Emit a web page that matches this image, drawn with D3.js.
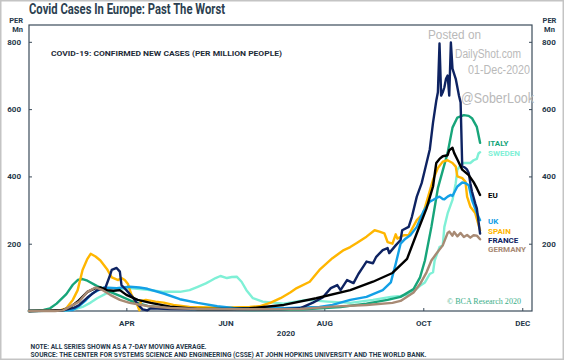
<!DOCTYPE html>
<html><head><meta charset="utf-8">
<script src="https://cdn.jsdelivr.net/npm/d3@7"></script>
<style>body{margin:0;background:#fff}svg{display:block}</style>
</head><body><svg id="c" width="564" height="360"></svg>
<script>
const countries = ["ITALY","SWEDEN","EU","UK","SPAIN","FRANCE","GERMANY"];
const italy = [["2020-02-01",0],["2020-02-10",3],["2020-02-14",8],["2020-02-18",22],["2020-02-24",50],["2020-02-28",78],["2020-03-02",92],["2020-03-05",95],["2020-03-08",90],["2020-03-14",74],["2020-03-22",57],["2020-03-28",45],["2020-04-05",28],["2020-04-14",15],["2020-04-28",8],["2020-05-16",5],["2020-06-16",3],["2020-07-17",4],["2020-08-11",12],["2020-08-27",22],["2020-09-09",33],["2020-09-17",42],["2020-09-25",65],["2020-09-29",100],["2020-10-02",150],["2020-10-06",250],["2020-10-10",365],["2020-10-16",470],["2020-10-19",545],["2020-10-22",575],["2020-10-26",582],["2020-10-29",580],["2020-10-31",573],["2020-11-03",547],["2020-11-05",500]];
const sweden = [["2020-02-01",0],["2020-02-24",1],["2020-02-29",5],["2020-03-05",12],["2020-03-10",25],["2020-03-14",38],["2020-03-20",53],["2020-03-26",62],["2020-04-03",68],["2020-04-14",63],["2020-04-24",57],["2020-05-04",57],["2020-05-10",62],["2020-05-15",72],["2020-05-20",82],["2020-05-23",90],["2020-05-26",98],["2020-05-29",104],["2020-06-02",98],["2020-06-05",101],["2020-06-08",102],["2020-06-11",87],["2020-06-14",62],["2020-06-18",38],["2020-06-24",28],["2020-07-07",22],["2020-07-21",33],["2020-08-03",28],["2020-08-17",24],["2020-08-31",33],["2020-09-11",42],["2020-09-17",45],["2020-09-23",50],["2020-09-29",75],["2020-10-02",85],["2020-10-05",110],["2020-10-07",115],["2020-10-08",150],["2020-10-11",190],["2020-10-13",195],["2020-10-14",250],["2020-10-16",290],["2020-10-19",330],["2020-10-21",380],["2020-10-22",420],["2020-10-25",440],["2020-10-30",440],["2020-11-01",448],["2020-11-03",452],["2020-11-04",468],["2020-11-05",472]];
const eu = [["2020-02-01",0],["2020-02-14",1],["2020-02-22",3],["2020-02-26",10],["2020-03-02",28],["2020-03-08",57],["2020-03-13",68],["2020-03-16",70],["2020-03-20",62],["2020-03-24",60],["2020-03-28",62],["2020-04-01",48],["2020-04-08",33],["2020-04-16",24],["2020-04-28",13],["2020-05-15",6],["2020-06-04",6],["2020-06-16",8],["2020-07-07",18],["2020-07-27",38],["2020-08-17",62],["2020-08-31",87],["2020-09-12",113],["2020-09-21",155],["2020-09-27",231],["2020-10-03",305],["2020-10-07",370],["2020-10-09",440],["2020-10-11",452],["2020-10-13",460],["2020-10-16",463],["2020-10-17",478],["2020-10-19",485],["2020-10-20",470],["2020-10-22",450],["2020-10-25",420],["2020-10-29",404],["2020-11-01",383],["2020-11-03",365],["2020-11-05",345]];
const uk = [["2020-02-01",0],["2020-02-20",1],["2020-02-28",3],["2020-03-03",15],["2020-03-07",32],["2020-03-11",52],["2020-03-18",70],["2020-03-26",68],["2020-04-03",72],["2020-04-09",70],["2020-04-14",66],["2020-04-24",52],["2020-05-04",35],["2020-05-15",24],["2020-05-27",14],["2020-06-06",9],["2020-07-07",8],["2020-07-29",12],["2020-08-06",18],["2020-08-17",33],["2020-08-27",42],["2020-09-06",62],["2020-09-11",85],["2020-09-14",140],["2020-09-17",200],["2020-09-20",215],["2020-09-23",225],["2020-09-27",250],["2020-10-01",295],["2020-10-05",325],["2020-10-07",330],["2020-10-09",336],["2020-10-11",340],["2020-10-13",333],["2020-10-14",332],["2020-10-16",340],["2020-10-18",345],["2020-10-19",342],["2020-10-22",370],["2020-10-25",382],["2020-10-27",380],["2020-10-29",374],["2020-10-31",330],["2020-11-03",291],["2020-11-05",270]];
const spain = [["2020-02-01",0],["2020-02-20",2],["2020-02-24",8],["2020-02-28",33],["2020-03-02",62],["2020-03-05",122],["2020-03-08",155],["2020-03-10",170],["2020-03-13",162],["2020-03-16",150],["2020-03-20",125],["2020-03-23",100],["2020-03-27",92],["2020-03-29",98],["2020-03-31",92],["2020-04-02",80],["2020-04-04",50],["2020-04-06",33],["2020-04-08",15],["2020-04-09",2],["2020-04-10",30],["2020-04-13",33],["2020-04-19",28],["2020-04-24",25],["2020-04-30",18],["2020-05-10",12],["2020-05-29",10],["2020-06-16",12],["2020-06-22",14],["2020-06-29",25],["2020-07-05",38],["2020-07-11",55],["2020-07-15",68],["2020-07-23",87],["2020-07-29",122],["2020-08-06",157],["2020-08-13",181],["2020-08-17",190],["2020-08-21",202],["2020-08-27",221],["2020-09-01",240],["2020-09-04",236],["2020-09-07",231],["2020-09-09",205],["2020-09-12",200],["2020-09-14",228],["2020-09-15",215],["2020-09-19",225],["2020-09-22",226],["2020-09-27",270],["2020-10-01",290],["2020-10-04",340],["2020-10-07",390],["2020-10-10",425],["2020-10-13",444],["2020-10-16",448],["2020-10-19",440],["2020-10-21",429],["2020-10-22",400],["2020-10-25",395],["2020-10-27",384],["2020-10-28",340],["2020-10-30",310],["2020-11-02",291],["2020-11-05",240]];
const france = [["2020-02-01",0],["2020-02-17",1],["2020-02-22",2],["2020-02-29",10],["2020-03-03",18],["2020-03-08",40],["2020-03-14",62],["2020-03-19",68],["2020-03-22",107],["2020-03-23",122],["2020-03-26",128],["2020-03-28",117],["2020-03-29",77],["2020-03-30",72],["2020-04-01",62],["2020-04-05",40],["2020-04-08",20],["2020-04-11",5],["2020-04-14",2],["2020-04-16",8],["2020-04-28",6],["2020-05-29",4],["2020-07-05",5],["2020-07-17",8],["2020-07-25",25],["2020-07-31",40],["2020-08-05",68],["2020-08-09",77],["2020-08-11",62],["2020-08-15",92],["2020-08-19",83],["2020-08-22",110],["2020-08-25",132],["2020-08-27",147],["2020-08-31",142],["2020-09-02",161],["2020-09-06",181],["2020-09-09",187],["2020-09-10",172],["2020-09-14",195],["2020-09-17",211],["2020-09-18",240],["2020-09-22",250],["2020-09-24",280],["2020-09-27",340],["2020-09-30",380],["2020-10-02",420],["2020-10-05",480],["2020-10-07",560],["2020-10-09",625],["2020-10-10",650],["2020-10-11",795],["2020-10-12",640],["2020-10-13",650],["2020-10-14",665],["2020-10-15",690],["2020-10-16",700],["2020-10-17",640],["2020-10-18",798],["2020-10-19",720],["2020-10-20",705],["2020-10-21",690],["2020-10-22",665],["2020-10-23",640],["2020-10-24",620],["2020-10-25",430],["2020-10-26",428],["2020-10-27",425],["2020-10-28",420],["2020-10-29",410],["2020-10-30",380],["2020-10-31",355],["2020-11-02",320],["2020-11-03",305],["2020-11-05",230]];
const germany = [["2020-02-01",0],["2020-02-17",0],["2020-02-22",2],["2020-03-03",28],["2020-03-08",57],["2020-03-13",70],["2020-03-17",63],["2020-03-22",48],["2020-03-28",33],["2020-04-03",24],["2020-04-14",15],["2020-04-28",9],["2020-05-15",6],["2020-06-16",5],["2020-07-17",6],["2020-08-06",13],["2020-08-27",18],["2020-09-12",24],["2020-09-17",30],["2020-09-25",55],["2020-09-29",80],["2020-10-03",115],["2020-10-06",150],["2020-10-09",170],["2020-10-13",195],["2020-10-16",232],["2020-10-17",236],["2020-10-19",224],["2020-10-20",235],["2020-10-22",222],["2020-10-24",232],["2020-10-26",220],["2020-10-28",226],["2020-10-30",218],["2020-11-01",225],["2020-11-03",224],["2020-11-05",213]];
const yTicks = [200,400,600,800];
const monthTicks = ["2020-04-01","2020-06-01","2020-08-01","2020-10-01","2020-12-01"];
const monthLabels = ["APR","JUN","AUG","OCT","DEC"];

const seriesData = {ITALY:italy, SWEDEN:sweden, EU:eu, UK:uk, SPAIN:spain, FRANCE:france, GERMANY:germany};
const colors = {ITALY:"#17a57a", SWEDEN:"#7ff0d6", EU:"#000000", UK:"#13a0e6", SPAIN:"#ffb600", FRANCE:"#0e2362", GERMANY:"#a88a74"};
const drawOrder = ["SWEDEN","ITALY","SPAIN","UK","FRANCE","EU","GERMANY"];

const parse = d3.utcParse("%Y-%m-%d");
const svg = d3.select("#c");
const F = "Roboto, 'Noto Sans', sans-serif";
const ink = "#26384a";

const x = d3.scaleUtc().domain([parse("2020-02-01"), parse("2020-12-07")]).range([29, 532]);
const y = d3.scaleLinear().domain([0, 850]).range([311, 25]);

// outer border
svg.append("rect").attr("x",0.75).attr("y",0.75).attr("width",562.5).attr("height",358.5)
  .attr("fill","none").attr("stroke","#c4c4c4").attr("stroke-width",1.5);

// title
svg.append("text").attr("x",29).attr("y",13.5).text("Covid Cases In Europe: Past The Worst")
  .attr("font-family",F).attr("font-weight",700).attr("font-size",14.5).attr("fill","#2c3f50")
  .attr("textLength",196).attr("lengthAdjust","spacingAndGlyphs");

// axes
const tickStyle = g => {
  g.select(".domain").remove();
  g.selectAll(".tick line").attr("stroke", "#3b4b5a");
  g.selectAll(".tick text").attr("font-family",F).attr("font-weight",700).attr("font-size",8).attr("fill",ink);
};
svg.append("g").attr("transform","translate(29,0)")
  .call(d3.axisLeft(y).tickValues(yTicks).tickSize(-3).tickPadding(8)).call(tickStyle);
svg.append("g").attr("transform","translate(532,0)")
  .call(d3.axisRight(y).tickValues(yTicks).tickSize(-3).tickPadding(10)).call(tickStyle);
svg.append("g").attr("transform","translate(0,311)")
  .call(d3.axisBottom(x).tickValues(monthTicks.map(parse)).tickFormat((d,i)=>monthLabels[i]).tickSize(-3).tickPadding(9))
  .call(tickStyle);

// frame
svg.append("rect").attr("x",29).attr("y",25).attr("width",503).attr("height",286)
  .attr("fill","none").attr("stroke","#3b4b5a").attr("stroke-width",1.2);

// unit labels
[["PER",23],["Mn",31.5]].forEach(([t,yy])=>{
  svg.append("text").attr("x",23).attr("y",yy).attr("text-anchor","end").text(t)
    .attr("font-family",F).attr("font-weight",700).attr("font-size",7.5).attr("fill",ink);
  svg.append("text").attr("x",549.5).attr("y",yy).attr("text-anchor","middle").text(t)
    .attr("font-family",F).attr("font-weight",700).attr("font-size",7.5).attr("fill",ink);
});

// subtitle
svg.append("text").attr("x",51).attr("y",56).text("COVID-19: CONFIRMED NEW CASES (PER MILLION PEOPLE)")
  .attr("font-family",F).attr("font-weight",700).attr("font-size",8).attr("fill","#1e2b38")
  .attr("textLength",231).attr("lengthAdjust","spacingAndGlyphs");

// watermark
const wm = [["Posted on",428,39,12,53],["DailyShot.com",455,58,12.5,66],["01-Dec-2020",468,74,12,62],["@SoberLook",461,103,14,73]];
wm.forEach(([t,xx,yy,fs,w])=>{
  svg.append("text").attr("x",xx).attr("y",yy).text(t).attr("font-family","'Liberation Sans', Arial, sans-serif")
    .attr("font-size",fs).attr("fill","#b9b9b9").attr("textLength",w).attr("lengthAdjust","spacingAndGlyphs");
});

// lines
const line = d3.line().x(d=>x(parse(d[0]))).y(d=>y(d[1]));
drawOrder.forEach(k=>{
  svg.append("path").datum(seriesData[k]).attr("d",line).attr("fill","none")
    .attr("stroke",colors[k]).attr("stroke-width",2.4).attr("stroke-linejoin","round").attr("stroke-linecap","round");
});

// end labels
let prev = -Infinity;
countries.forEach(k=>{
  const arr = seriesData[k];
  let yy = y(arr[arr.length-1][1]);
  if (yy < prev + 9) yy = prev + 9;
  prev = yy;
  svg.append("text").attr("x",488).attr("y",yy).attr("dy","0.42em").text(k)
    .attr("font-family",F).attr("font-weight",700).attr("font-size",8).attr("fill",colors[k]);
});

// copyright
svg.append("text").attr("x",447).attr("y",303.5).text("© BCA Research 2020")
  .attr("font-family","'Liberation Serif', 'DejaVu Serif', serif").attr("font-size",8.5).attr("fill","#3aae88")
  .attr("textLength",74).attr("lengthAdjust","spacingAndGlyphs");

// year and notes
svg.append("text").attr("x",286).attr("y",336).attr("text-anchor","middle").text("2020")
  .attr("font-family",F).attr("font-weight",700).attr("font-size",8).attr("fill",ink);
svg.append("text").attr("x",30.5).attr("y",349).text("NOTE: ALL SERIES SHOWN AS A 7-DAY MOVING AVERAGE.")
  .attr("font-family",F).attr("font-weight",700).attr("font-size",6.3).attr("fill",ink)
  .attr("textLength",176).attr("lengthAdjust","spacingAndGlyphs");
svg.append("text").attr("x",30.5).attr("y",357).text("SOURCE: THE CENTER FOR SYSTEMS SCIENCE AND ENGINEERING (CSSE) AT JOHN HOPKINS UNIVERSITY AND THE WORLD BANK.")
  .attr("font-family",F).attr("font-weight",700).attr("font-size",6.3).attr("fill",ink)
  .attr("textLength",396).attr("lengthAdjust","spacingAndGlyphs");
</script></body></html>
